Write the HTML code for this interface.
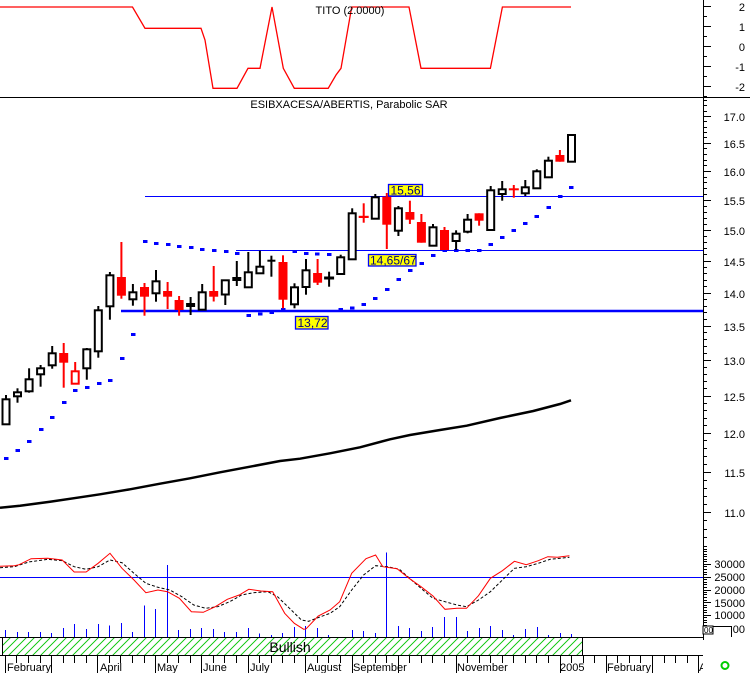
<!DOCTYPE html>
<html><head><meta charset="utf-8"><style>
html,body{margin:0;padding:0;background:#fff;}
svg{display:block;font-family:"Liberation Sans",Arial,sans-serif;}
</style></head><body>
<svg width="750" height="673" viewBox="0 0 750 673" xmlns="http://www.w3.org/2000/svg">
<defs>
<pattern id="hatch" patternUnits="userSpaceOnUse" width="8" height="8">
<path d="M0,8 L8,0 M-2,2 L2,-2 M6,10 L10,6" stroke="#22cc22" stroke-width="1" shape-rendering="crispEdges"/>
</pattern>
<clipPath id="axclip"><rect x="0" y="655" width="703" height="18"/></clipPath>
</defs>
<rect width="750" height="673" fill="#fff"/>

<!-- TITO panel -->
<polyline fill="none" stroke="#ff0000" stroke-width="1.3" points="0,7 132.5,7 145,28.3 201,28.3 205,40 213,88.3 237,88.3 248,68.3 260,68.3 272,7 283.3,68.3 294.3,88.3 328.2,88.3 336,75 341,68.3 351.7,7 409,7 421,68.3 490.4,68.3 502.4,7 571,7"/>
<text x="350" y="14" font-size="11" text-anchor="middle" fill="#000">TITO (2.0000)</text>
<line x1="0" y1="97.5" x2="750" y2="97.5" stroke="#000" stroke-width="1"/>
<g font-size="11" fill="#000" text-anchor="end">
<text x="745" y="11">2</text><text x="745" y="31">1</text><text x="745" y="51">0</text><text x="745" y="71">-1</text><text x="745" y="91">-2</text>
</g>

<!-- axis line -->
<line x1="703.5" y1="0" x2="703.5" y2="640" stroke="#000" stroke-width="1"/>
<path stroke="#000" stroke-width="1" fill="none" d="M703,6.5h8M703,16.5h4M703,26.5h8M703,36.5h4M703,46.5h8M703,56.5h4M703,66.5h8M703,76.5h4M703,86.5h8M703,96.5h4"/>

<!-- main axis ticks -->
<path stroke="#000" stroke-width="1" fill="none" d="
M703,116.5h8M703,143.5h8M703,171.5h8M703,200.5h8M703,230.5h8M703,261.5h8M703,293.5h8M703,326.5h8M703,360.5h8M703,396.5h8M703,433.5h8M703,472.5h8M703,512.5h8
M703,100.5h4M703,105.5h4M703,111.5h4M703,121.5h4M703,127.5h4M703,132.5h4M703,137.5h4M703,148.5h4M703,154.5h4M703,160.5h4M703,165.5h4
M703,177.5h4M703,182.5h4M703,188.5h4M703,194.5h4M703,206.5h4M703,212.5h4M703,218.5h4M703,224.5h4
M703,236.5h4M703,242.5h4M703,248.5h4M703,254.5h4M703,267.5h4M703,273.5h4M703,280.5h4M703,286.5h4
M703,299.5h4M703,306.5h4M703,312.5h4M703,319.5h4M703,332.5h4M703,339.5h4M703,346.5h4M703,353.5h4
M703,367.5h4M703,374.5h4M703,381.5h4M703,388.5h4M703,403.5h4M703,410.5h4M703,418.5h4M703,425.5h4
M703,440.5h4M703,448.5h4M703,456.5h4M703,464.5h4M703,480.5h4M703,488.5h4M703,496.5h4M703,504.5h4
M703,520.5h4M703,529.5h4M703,537.5h4M703,546.5h4"/>
<g font-size="11" fill="#000" text-anchor="end">
<text x="745" y="121">17.0</text><text x="745" y="148">16.5</text><text x="745" y="176">16.0</text><text x="745" y="205">15.5</text>
<text x="745" y="235">15.0</text><text x="745" y="266">14.5</text><text x="745" y="298">14.0</text><text x="745" y="331">13.5</text>
<text x="745" y="365">13.0</text><text x="745" y="401">12.5</text><text x="745" y="438">12.0</text><text x="745" y="477">11.5</text>
<text x="745" y="517">11.0</text>
</g>

<!-- bottom axis ticks -->
<path stroke="#000" stroke-width="1" fill="none" d="
M703,564.5h8M703,577.5h8M703,590.5h8M703,602.5h8M703,615.5h8M703,628.5h8
M703,549.5h4M703,551.5h4M703,554.5h4M703,556.5h4M703,559.5h4M703,561.5h4M703,566.5h4M703,569.5h4M703,572.5h4M703,574.5h4
M703,579.5h4M703,582.5h4M703,584.5h4M703,587.5h4M703,592.5h4M703,594.5h4M703,597.5h4M703,600.5h4M703,605.5h4M703,607.5h4
M703,610.5h4M703,612.5h4M703,617.5h4M703,620.5h4M703,622.5h4M703,625.5h4"/>
<g font-size="11" fill="#000" text-anchor="end">
<text x="745" y="568">30000</text><text x="745" y="581">25000</text><text x="745" y="594">20000</text>
<text x="745" y="607">15000</text><text x="745" y="619">10000</text><text x="745" y="633">00</text>
</g>
<rect x="703" y="626" width="10" height="8" fill="#fff" stroke="#000" stroke-width="1"/>
<text x="704" y="633" font-size="8" fill="#000">00</text>
<path d="M713,626.5H731.5V637" stroke="#000" stroke-width="1" fill="none"/>

<!-- title -->
<text x="349" y="108" font-size="11" text-anchor="middle" fill="#000">ESIBXACESA/ABERTIS, Parabolic SAR</text>

<!-- horizontal blue levels -->
<line x1="145" y1="196.5" x2="703" y2="196.5" stroke="#0000ff" stroke-width="1"/>
<line x1="236" y1="250.5" x2="703" y2="250.5" stroke="#0000ff" stroke-width="1"/>
<line x1="121" y1="311" x2="703" y2="311" stroke="#0000ff" stroke-width="2.5"/>

<!-- moving average -->
<polyline fill="none" stroke="#000" stroke-width="2.5" points="0,507.7 20,505.7 50,501.7 80,497.3 100,494.3 130,489.3 160,483.7 190,478.3 220,472.3 250,466.7 280,461 300,458.7 330,453.3 360,447.3 390,439.3 410,435 440,430 466.7,425.7 500,418 533.3,411 560,404 571,400.3"/>

<!-- SAR dots -->
<g fill="#0000ff">
<rect x="4" y="457" width="4.5" height="3"/><rect x="15.5" y="449" width="4.5" height="3"/><rect x="27" y="440" width="4.5" height="3"/>
<rect x="39" y="428" width="4.5" height="3"/><rect x="50" y="416" width="4.5" height="3"/><rect x="62" y="401" width="4.5" height="3"/>
<rect x="73" y="389" width="4.5" height="3"/><rect x="85" y="386" width="4.5" height="3"/><rect x="97" y="382" width="4.5" height="3"/>
<rect x="108" y="379" width="4.5" height="3"/><rect x="120" y="357" width="4.5" height="3"/><rect x="131" y="333" width="4.5" height="3"/>
<rect x="143" y="240" width="4.5" height="3"/><rect x="154" y="242" width="4.5" height="3"/><rect x="166" y="243" width="4.5" height="3"/>
<rect x="177" y="245" width="4.5" height="3"/><rect x="189" y="246" width="4.5" height="3"/><rect x="200" y="248" width="4.5" height="3"/>
<rect x="212" y="249" width="4.5" height="3"/><rect x="224" y="250" width="4.5" height="3"/><rect x="235" y="252" width="4.5" height="3"/>
<rect x="246.5" y="314" width="4.5" height="3"/><rect x="258" y="312.5" width="4.5" height="3"/><rect x="269.5" y="311" width="4.5" height="3"/>
<rect x="281" y="308" width="4.5" height="3"/><rect x="292.5" y="250" width="4.5" height="3"/><rect x="304" y="252" width="4.5" height="3"/>
<rect x="315" y="252.5" width="4.5" height="3"/><rect x="327" y="253" width="4.5" height="3"/><rect x="338.5" y="308" width="4.5" height="3"/>
<rect x="350" y="306.5" width="4.5" height="3"/><rect x="361.5" y="303" width="4.5" height="3"/><rect x="373" y="297" width="4.5" height="3"/>
<rect x="385" y="288" width="4.5" height="3"/><rect x="396.5" y="278" width="4.5" height="3"/><rect x="408" y="269" width="4.5" height="3"/>
<rect x="419.5" y="262" width="4.5" height="3"/><rect x="431" y="254" width="4.5" height="3"/><rect x="442.5" y="249" width="4.5" height="3"/>
<rect x="454" y="249" width="4.5" height="3"/><rect x="465.5" y="249" width="4.5" height="3"/><rect x="477" y="249" width="4.5" height="3"/>
<rect x="488.5" y="243" width="4.5" height="3"/><rect x="500" y="236" width="4.5" height="3"/><rect x="511.5" y="229" width="4.5" height="3"/>
<rect x="523" y="222" width="4.5" height="3"/><rect x="534.5" y="215" width="4.5" height="3"/><rect x="546.5" y="206" width="4.5" height="3"/>
<rect x="558" y="195" width="4.5" height="3"/><rect x="569" y="186" width="4.5" height="3"/>
</g>

<!-- wicks -->
<g stroke="#000" stroke-width="2">
<line x1="6" y1="395" x2="6" y2="424.3"/><line x1="17.5" y1="388.3" x2="17.5" y2="402.7"/><line x1="29.1" y1="368.3" x2="29.1" y2="392.7"/>
<line x1="40.6" y1="365" x2="40.6" y2="386.7"/><line x1="52.2" y1="346" x2="52.2" y2="368.7"/><line x1="86.8" y1="348" x2="86.8" y2="379.7"/>
<line x1="98.3" y1="306" x2="98.3" y2="357.7"/><line x1="109.9" y1="272" x2="109.9" y2="319.7"/><line x1="132.9" y1="284" x2="132.9" y2="305.7"/>
<line x1="156" y1="270" x2="156" y2="301.7"/><line x1="190.6" y1="297" x2="190.6" y2="315"/><line x1="202.2" y1="284" x2="202.2" y2="309.7"/>
<line x1="225.3" y1="280.3" x2="225.3" y2="305"/><line x1="236.8" y1="261" x2="236.8" y2="286"/><line x1="248.3" y1="252" x2="248.3" y2="287.3"/>
<line x1="259.9" y1="250.7" x2="259.9" y2="273.3"/><line x1="271.4" y1="255.7" x2="271.4" y2="276.7"/><line x1="294.5" y1="283.3" x2="294.5" y2="308.3"/>
<line x1="306" y1="259" x2="306" y2="294.7"/><line x1="329.1" y1="271.7" x2="329.1" y2="286.7"/><line x1="340.7" y1="254.7" x2="340.7" y2="274"/>
<line x1="352.2" y1="208.3" x2="352.2" y2="259.3"/><line x1="375.3" y1="194" x2="375.3" y2="218.7"/><line x1="398.4" y1="206" x2="398.4" y2="236"/>
<line x1="433" y1="224" x2="433" y2="245.7"/><line x1="456.1" y1="230.3" x2="456.1" y2="250"/><line x1="467.6" y1="214" x2="467.6" y2="233.3"/>
<line x1="490.7" y1="186" x2="490.7" y2="230"/><line x1="502.2" y1="181" x2="502.2" y2="200.7"/><line x1="525.3" y1="180" x2="525.3" y2="196"/>
<line x1="536.8" y1="169.3" x2="536.8" y2="188.3"/><line x1="548.4" y1="156.7" x2="548.4" y2="177.3"/><line x1="571.5" y1="134" x2="571.5" y2="161.7"/>
</g>
<g stroke="#ff0000" stroke-width="2">
<line x1="63.7" y1="343" x2="63.7" y2="387.7"/><line x1="75.2" y1="362" x2="75.2" y2="383.7"/><line x1="121.4" y1="242" x2="121.4" y2="298.7"/>
<line x1="144.5" y1="283" x2="144.5" y2="315.7"/><line x1="167.6" y1="282" x2="167.6" y2="309"/><line x1="179.1" y1="296" x2="179.1" y2="315.7"/>
<line x1="213.7" y1="266" x2="213.7" y2="301.5"/><line x1="283" y1="255.3" x2="283" y2="308.3"/><line x1="317.6" y1="259" x2="317.6" y2="285"/>
<line x1="363.7" y1="203.3" x2="363.7" y2="222.7"/><line x1="386.8" y1="193" x2="386.8" y2="249"/><line x1="409.9" y1="200.7" x2="409.9" y2="224"/>
<line x1="421.4" y1="214" x2="421.4" y2="242.7"/><line x1="444.5" y1="227" x2="444.5" y2="250"/><line x1="479.1" y1="213.3" x2="479.1" y2="225.7"/>
<line x1="513.8" y1="185" x2="513.8" y2="197.7"/><line x1="559.9" y1="150" x2="559.9" y2="161.7"/>
</g>

<!-- hollow black bodies -->
<g fill="#fff" stroke="#000" stroke-width="2">
<rect x="2.5" y="399.3" width="7" height="25"/><rect x="14" y="392.3" width="7" height="4"/><rect x="25.6" y="379.3" width="7" height="12"/>
<rect x="37.1" y="368.3" width="7" height="6"/><rect x="48.7" y="353.3" width="7" height="12"/><rect x="83.3" y="349.3" width="7" height="19"/>
<rect x="94.8" y="310.3" width="7" height="41"/><rect x="106.4" y="275.3" width="7" height="31"/><rect x="129.4" y="292.3" width="7" height="7"/>
<rect x="152.5" y="281.3" width="7" height="12"/><rect x="187.1" y="304" width="7" height="2"/><rect x="198.7" y="292.3" width="7" height="17.4"/>
<rect x="221.8" y="280.3" width="7" height="14.2"/><rect x="233.3" y="278" width="7" height="2"/><rect x="244.8" y="272.3" width="7" height="15"/>
<rect x="256.4" y="266.7" width="7" height="6.6"/><rect x="291" y="287.3" width="7" height="17"/><rect x="302.5" y="270.3" width="7" height="16.7"/>
<rect x="337.2" y="257.3" width="7" height="16.7"/><rect x="348.7" y="213.3" width="7" height="46"/><rect x="371.8" y="197.3" width="7" height="21.4"/>
<rect x="394.9" y="208.3" width="7" height="22.4"/><rect x="429.5" y="227.3" width="7" height="18.4"/><rect x="452.6" y="233.7" width="7" height="7.3"/>
<rect x="464.1" y="219.7" width="7" height="12"/><rect x="487.2" y="190.3" width="7" height="39.7"/><rect x="498.7" y="189.3" width="7" height="4.7"/>
<rect x="521.8" y="187.3" width="7" height="6"/><rect x="533.3" y="171.3" width="7" height="17"/><rect x="544.9" y="160.7" width="7" height="16.6"/>
<rect x="568" y="135" width="7" height="26.7"/>
</g>
<!-- red hollow -->
<rect x="71.7" y="371.3" width="7" height="12.4" fill="#fff" stroke="#ff0000" stroke-width="2"/>
<!-- red filled bodies -->
<g fill="#ff0000">
<rect x="59.2" y="353" width="9" height="9.7"/><rect x="116.9" y="277" width="9" height="18.7"/><rect x="140" y="287" width="9" height="9.7"/>
<rect x="163.1" y="291" width="9" height="5.7"/><rect x="174.6" y="300" width="9" height="10"/><rect x="209.2" y="291" width="9" height="5.7"/>
<rect x="278.5" y="262" width="9" height="37.7"/><rect x="313.1" y="273" width="9" height="9.7"/><rect x="358.7" y="215.8" width="10" height="2.2"/>
<rect x="382.3" y="196.7" width="9" height="28"/><rect x="405.4" y="212" width="9" height="7.7"/><rect x="416.9" y="222" width="9" height="20.7"/>
<rect x="440" y="230" width="9" height="20"/><rect x="474.6" y="213.3" width="9" height="7.4"/><rect x="508.8" y="188.3" width="10" height="2"/>
<rect x="555.4" y="155" width="9" height="6.7"/>
</g>
<!-- crosses / black filled -->
<rect x="267.4" y="259.7" width="8" height="2" fill="#000"/>
<rect x="324.1" y="276.5" width="10" height="3" fill="#000"/>

<!-- price labels -->
<g font-size="12" fill="#000080">
<rect x="388.5" y="184.5" width="34" height="11.5" fill="#ffff00" stroke="#0000ff" stroke-width="1.3"/>
<text x="390.5" y="194.5">15,56</text>
<rect x="368.5" y="254.5" width="47.5" height="11.5" fill="#ffff00" stroke="#0000ff" stroke-width="1.3"/>
<text x="370" y="264.5">14,65/67</text>
<rect x="295.5" y="316.5" width="32.5" height="12.5" fill="#ffff00" stroke="#0000ff" stroke-width="1.3"/>
<text x="297.5" y="327">13,72</text>
</g>

<!-- bottom panel -->
<line x1="0" y1="577.5" x2="703" y2="577.5" stroke="#0000ff" stroke-width="1"/>
<g stroke="#0000ff" stroke-width="1" shape-rendering="crispEdges">
<line x1="5.5" y1="630" x2="5.5" y2="637"/><line x1="17.5" y1="632" x2="17.5" y2="637"/><line x1="28.5" y1="632" x2="28.5" y2="637"/>
<line x1="40.5" y1="632" x2="40.5" y2="637"/><line x1="51.5" y1="633" x2="51.5" y2="637"/><line x1="63.5" y1="628" x2="63.5" y2="637"/>
<line x1="74.5" y1="624" x2="74.5" y2="637"/><line x1="86.5" y1="629" x2="86.5" y2="637"/><line x1="98.5" y1="624" x2="98.5" y2="637"/>
<line x1="109.5" y1="625.7" x2="109.5" y2="637"/><line x1="121.5" y1="623" x2="121.5" y2="637"/><line x1="132.5" y1="632" x2="132.5" y2="637"/>
<line x1="144.5" y1="605.7" x2="144.5" y2="637"/><line x1="155.5" y1="609" x2="155.5" y2="637"/><line x1="167.5" y1="565" x2="167.5" y2="637"/>
<line x1="178.5" y1="630" x2="178.5" y2="637"/><line x1="190.5" y1="629" x2="190.5" y2="637"/><line x1="201.5" y1="628" x2="201.5" y2="637"/>
<line x1="213.5" y1="629" x2="213.5" y2="637"/><line x1="224.5" y1="632" x2="224.5" y2="637"/><line x1="236.5" y1="632" x2="236.5" y2="637"/>
<line x1="248.5" y1="628" x2="248.5" y2="637"/><line x1="259.5" y1="633.7" x2="259.5" y2="637"/><line x1="271.5" y1="635" x2="271.5" y2="637"/>
<line x1="282.5" y1="633" x2="282.5" y2="637"/><line x1="294.5" y1="627" x2="294.5" y2="637"/><line x1="305.5" y1="626" x2="305.5" y2="637"/>
<line x1="317.5" y1="628" x2="317.5" y2="637"/><line x1="328.5" y1="635" x2="328.5" y2="637"/><line x1="352.5" y1="630" x2="352.5" y2="637"/>
<line x1="363.5" y1="631" x2="363.5" y2="637"/><line x1="375.5" y1="633" x2="375.5" y2="637"/><line x1="386.5" y1="552.7" x2="386.5" y2="637"/>
<line x1="398.5" y1="626" x2="398.5" y2="637"/><line x1="409.5" y1="628" x2="409.5" y2="637"/><line x1="421.5" y1="631" x2="421.5" y2="637"/>
<line x1="432.5" y1="627" x2="432.5" y2="637"/><line x1="444.5" y1="617" x2="444.5" y2="637"/><line x1="456.5" y1="617" x2="456.5" y2="637"/>
<line x1="467.5" y1="631" x2="467.5" y2="637"/><line x1="479.5" y1="628" x2="479.5" y2="637"/><line x1="490.5" y1="626" x2="490.5" y2="637"/>
<line x1="502.5" y1="630" x2="502.5" y2="637"/><line x1="513.5" y1="635" x2="513.5" y2="637"/><line x1="525.5" y1="629" x2="525.5" y2="637"/>
<line x1="537.5" y1="627" x2="537.5" y2="637"/><line x1="548.5" y1="635" x2="548.5" y2="637"/><line x1="560.5" y1="633" x2="560.5" y2="637"/>
<line x1="571.5" y1="634" x2="571.5" y2="637"/>
</g>
<polyline fill="none" stroke="#000" stroke-width="1" stroke-dasharray="3,2" points="0,567.7 14.4,566.7 28.7,562 47.8,559.3 62.2,560.7 74.2,566.7 86.1,569.3 98.1,566.7 110,560 122,562.7 134,573.3 145.9,583.3 157.9,587.3 169.9,590 181.8,596.7 193.8,605 205.7,608.3 217.7,606.7 229.7,601.7 241.6,595 253.6,592.7 267.9,591.7 277.5,596.7 289.5,608.3 301.4,620 308.6,621.3 320.6,616.7 330.1,613.3 339.7,606.7 351.7,590 363.6,575 375.6,565.7 387.6,566.7 399.5,569.3 411.5,580 421,588.3 433,598.3 445,601.7 457,605 466.5,606.7 478.5,600 490.4,591.7 502.4,580 514.4,568.3 526.3,566.7 538.3,563.3 550.2,559.3 569.4,557.3"/>
<polyline fill="none" stroke="#ff0000" stroke-width="1" points="0,566.3 14.4,565.7 19.1,564.7 31.1,558.7 47.8,558.3 62.2,560 74.2,572 86.1,572 98.1,563.3 110,553.3 122,568.3 134,580 145.9,592.7 157.9,590 167.5,591.7 179.4,598.3 191.4,611.7 203.3,612.3 215.3,606.7 227.3,599.3 239.2,595 248.8,589.3 260.8,591 272.7,591.7 284.7,613.3 294.3,623.3 303.8,629.3 306.2,628.7 318.2,616 330.1,610 339.7,601.7 351.7,573.3 366,558.7 375.6,555 382.8,566.7 397.1,568.7 409.1,578.3 421,586.7 433,596 445,609.3 457,608.3 466.5,608.3 478.5,595.7 490.4,578.3 502.4,570.7 514.4,561.3 526.3,564.7 538.3,560.7 547.8,556.7 557.4,557.3 569.4,555.7"/>

<!-- bullish band -->
<rect x="2" y="637" width="580.5" height="18" fill="url(#hatch)"/>
<line x1="0" y1="637.5" x2="703" y2="637.5" stroke="#000" stroke-width="1"/>
<line x1="0" y1="655.5" x2="703" y2="655.5" stroke="#000" stroke-width="1"/>
<line x1="2.5" y1="637" x2="2.5" y2="656" stroke="#000" stroke-width="1"/>
<line x1="582.5" y1="637" x2="582.5" y2="656" stroke="#000" stroke-width="1"/>
<text x="290" y="652" font-size="14" text-anchor="middle" fill="#000">Bullish</text>

<!-- x axis ticks -->
<path stroke="#000" stroke-width="1" fill="none" d="
M5.5,656V673M51.5,656V673M97.5,656V673M155.5,656V673M201.5,656V673M248.5,656V673M305.5,656V673M352.5,656V673M398.5,656V673M456.5,656V673M560.5,656V673M606.5,656V673M652.5,656V673M698.5,656V673
M16.5,656v7M28.5,656v7M40.5,656v7M63.5,656v7M74.5,656v7M86.5,656v7M109.5,656v7M120.5,656v7M132.5,656v7M144.5,656v7M167.5,656v7M178.5,656v7M190.5,656v7
M213.5,656v7M224.5,656v7M236.5,656v7M259.5,656v7M271.5,656v7M282.5,656v7M294.5,656v7M317.5,656v7M328.5,656v7M340.5,656v7M363.5,656v7M375.5,656v7M386.5,656v7
M409.5,656v7M421.5,656v7M432.5,656v7M444.5,656v7M467.5,656v7M479.5,656v7M490.5,656v7M502.5,656v7M513.5,656v7M525.5,656v7M536.5,656v7M548.5,656v7M571.5,656v7
M583.5,656v7M594.5,656v7M617.5,656v7M629.5,656v7M640.5,656v7M664.5,656v7M675.5,656v7M687.5,656v7"/>
<g font-size="11" fill="#000" clip-path="url(#axclip)">
<text x="7" y="671">February</text><text x="100" y="671">April</text><text x="157" y="671">May</text><text x="203" y="671">June</text>
<text x="250" y="671">July</text><text x="307" y="671">August</text><text x="353" y="671">September</text><text x="457" y="671">November</text>
<text x="560" y="671">2005</text><text x="607" y="671">February</text><text x="699" y="671">A</text>
</g>
<circle cx="725" cy="665.5" r="3.5" fill="none" stroke="#00cc00" stroke-width="2"/>
</svg>
</body></html>
